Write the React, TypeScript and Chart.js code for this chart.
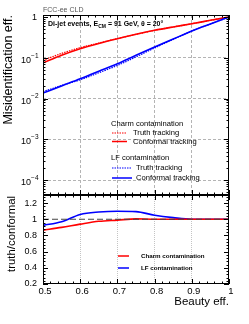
import React, { useEffect, useRef } from 'react';
import { Chart, registerables } from 'chart.js';
Chart.register(...registerables);

// ---------- data ----------
const beautyEff = [0.5, 0.55, 0.6, 0.65, 0.7, 0.75, 0.8, 0.85, 0.9, 0.95, 1.0];
const charmConformal = [0.075, 0.115, 0.166, 0.224, 0.293, 0.376, 0.471, 0.571, 0.684, 0.83, 1.0];
const charmTruth = [0.0866, 0.128, 0.177, 0.23, 0.296, 0.374, 0.471, 0.571, 0.684, 0.83, 1.0];
const lfConformal = [0.0136, 0.0204, 0.0305, 0.0468, 0.0713, 0.115, 0.183, 0.288, 0.453, 0.676, 1.0];
const lfTruth = [0.0147, 0.021, 0.0288, 0.0429, 0.0648, 0.105, 0.174, 0.282, 0.453, 0.676, 1.0];
const charmRatio = [0.866, 0.9, 0.94, 0.975, 0.99, 1.005, 1.0, 1.0, 1.0, 1.0, 1.0];
const lfRatio = [0.925, 0.97, 1.06, 1.09, 1.1, 1.095, 1.05, 1.02, 1.0, 1.0, 1.0];
const refLineX = [0.5, 1.0];
const refLineY = [1, 1];

const xTickValues = [0.5, 0.6, 0.7, 0.8, 0.9, 1.0];
const xTickLabels = ['0.5', '0.6', '0.7', '0.8', '0.9', '1'];
const logTickValues = [1, 1e-1, 1e-2, 1e-3, 1e-4];
const logTickBase = ['1', '10', '10', '10', '10'];
const logTickExp = ['', '\u22121', '\u22122', '\u22123', '\u22124'];
const ratioTickValues = [0.2, 0.4, 0.6, 0.8, 1.0, 1.2];
const ratioTickLabels = ['0.2', '0.4', '0.6', '0.8', '1', '1.2'];

const RED = '#ff0000';
const BLUE = '#0000ff';
const FONT = '"Liberation Sans", Arial, Helvetica, sans-serif';

const W = 249;
const H = 324;

function pts(xs: number[], ys: number[]) {
  return xs.map((x, i) => ({ x, y: ys[i] }));
}

function drawFrame(chart: any, xMinorStep: number, yMinors: number[], yMajors: number[]) {
  const ctx = chart.ctx;
  const a = chart.chartArea;
  const xs = chart.scales.x;
  const ys = chart.scales.y;
  ctx.save();
  ctx.strokeStyle = '#000';
  ctx.lineWidth = 1;
  ctx.strokeRect(a.left + 0.5, a.top + 0.5, a.right - a.left - 1, a.bottom - a.top - 1);
  ctx.beginPath();
  const n = Math.round((xs.max - xs.min) / xMinorStep);
  for (let k = 0; k <= n; k++) {
    const v = xs.min + k * xMinorStep;
    const major = k % 5 === 0;
    const len = major ? 5 : 2.5;
    const px = Math.round(xs.getPixelForValue(v)) + 0.5;
    ctx.moveTo(px, a.bottom);
    ctx.lineTo(px, a.bottom - len);
    ctx.moveTo(px, a.top);
    ctx.lineTo(px, a.top + len);
  }
  const drawY = (v: number, len: number) => {
    if (v < ys.min || v > ys.max) return;
    const py = Math.round(ys.getPixelForValue(v)) + 0.5;
    ctx.moveTo(a.left, py);
    ctx.lineTo(a.left + len, py);
    ctx.moveTo(a.right, py);
    ctx.lineTo(a.right - len, py);
  };
  yMinors.forEach((v) => drawY(v, 2.5));
  yMajors.forEach((v) => drawY(v, 5));
  ctx.stroke();
  ctx.restore();
}

function legendLine(ctx: any, x0: number, x1: number, y: number, color: string, dash: number[], width: number) {
  ctx.save();
  ctx.strokeStyle = color;
  ctx.lineWidth = width;
  ctx.setLineDash(dash);
  ctx.beginPath();
  ctx.moveTo(x0, y);
  ctx.lineTo(x1, y);
  ctx.stroke();
  ctx.restore();
}

function rotatedText(ctx: any, text: string, x: number, yEnd: number, font: string) {
  ctx.save();
  ctx.translate(x, yEnd);
  ctx.rotate(-Math.PI / 2);
  ctx.font = font;
  ctx.fillStyle = '#000';
  ctx.textAlign = 'right';
  ctx.textBaseline = 'middle';
  ctx.fillText(text, 0, 0);
  ctx.restore();
}

const topPlugin = {
  id: 'topDecor',
  afterDraw(chart: any) {
    const ctx = chart.ctx;
    const ys = chart.scales.y;
    const logMinors: number[] = [];
    for (let e = -5; e <= 0; e++) {
      for (let m = 2; m <= 9; m++) logMinors.push(m * Math.pow(10, e));
    }
    drawFrame(chart, 0.02, logMinors, logTickValues);

    ctx.save();
    ctx.fillStyle = '#000';
    // y tick labels with superscripts
    logTickValues.forEach((v, i) => {
      const y = ys.getPixelForValue(v);
      ctx.textBaseline = 'middle';
      ctx.textAlign = 'right';
      if (!logTickExp[i]) {
        ctx.font = `9px ${FONT}`;
        ctx.fillText(logTickBase[i], 37, y + 0.5);
      } else {
        ctx.font = `6.5px ${FONT}`;
        const w = ctx.measureText(logTickExp[i]).width;
        ctx.fillText(logTickExp[i], 38.5, y - 2);
        ctx.font = `9px ${FONT}`;
        ctx.fillText(logTickBase[i], 38.5 - w, y + 2.5);
      }
    });

    // header
    ctx.textAlign = 'left';
    ctx.textBaseline = 'alphabetic';
    ctx.fillStyle = '#555';
    ctx.font = `7px ${FONT}`;
    ctx.fillText('FCC-ee CLD', 43, 12);

    ctx.fillStyle = '#000';
    ctx.font = `bold 7px ${FONT}`;
    let x = 48;
    const base = 25.5;
    const p1 = 'Di-jet events, E';
    ctx.fillText(p1, x, base);
    x += ctx.measureText(p1).width;
    ctx.font = `bold 5px ${FONT}`;
    ctx.fillText('CM', x, base + 2);
    x += ctx.measureText('CM').width;
    ctx.font = `bold 7px ${FONT}`;
    ctx.fillText(' = 91 GeV, \u03b8 = 20\u00b0', x, base);

    // legend
    ctx.font = `7.6px ${FONT}`;
    ctx.textBaseline = 'middle';
    ctx.fillText('Charm contamination', 111, 124);
    legendLine(ctx, 112, 127, 133, RED, [1.5, 1], 1.2);
    ctx.fillText('Truth tracking', 133, 133);
    legendLine(ctx, 112, 127, 141.5, RED, [], 1.5);
    ctx.fillText('Conformal tracking', 133, 141.5);
    ctx.fillText('LF contamination', 111, 158);
    legendLine(ctx, 112, 131, 168, BLUE, [1.5, 1], 1.2);
    ctx.fillText('Truth tracking', 136, 168);
    legendLine(ctx, 112, 132, 178, BLUE, [], 1.5);
    ctx.fillText('Conformal tracking', 136, 178);
    ctx.restore();

    rotatedText(ctx, 'Misidentification eff.', 9, 15, `12.5px ${FONT}`);
  },
};

const bottomPlugin = {
  id: 'bottomDecor',
  afterDraw(chart: any) {
    const ctx = chart.ctx;
    const minors: number[] = [];
    for (let k = 0; k <= 30; k++) minors.push(0.2 + k * 0.04);
    drawFrame(chart, 0.02, minors, ratioTickValues);

    ctx.save();
    ctx.fillStyle = '#000';
    ctx.font = `bold 6.2px ${FONT}`;
    ctx.textAlign = 'left';
    ctx.textBaseline = 'middle';
    legendLine(ctx, 118, 129, 256, RED, [], 1.5);
    ctx.fillText('Charm contamination', 141, 256);
    legendLine(ctx, 118, 129, 268, BLUE, [], 1.5);
    ctx.fillText('LF contamination', 141, 268);

    ctx.font = `11.5px ${FONT}`;
    ctx.textAlign = 'right';
    ctx.textBaseline = 'alphabetic';
    ctx.fillText('Beauty eff.', 229, 305);
    ctx.restore();

    rotatedText(ctx, 'truth/conformal', 12, 196, `11.4px ${FONT}`);
  },
};

function gridColor(ctx: any, edges: number[], color: string) {
  const v = ctx.tick ? ctx.tick.value : null;
  if (v == null) return 'rgba(0,0,0,0)';
  if (edges.some((e) => Math.abs(e - v) < 1e-9)) return 'rgba(0,0,0,0)';
  return color;
}

export default function App() {
  const topRef = useRef<HTMLCanvasElement>(null);
  const botRef = useRef<HTMLCanvasElement>(null);

  useEffect(() => {
    const lineDs = (label: string, ys: number[], color: string, dash: number[], width: number) => ({
      label,
      data: pts(beautyEff, ys),
      borderColor: color,
      backgroundColor: color,
      borderWidth: width,
      borderDash: dash,
      pointRadius: 0,
      fill: false,
      cubicInterpolationMode: 'monotone' as const,
    });

    const top = new Chart(topRef.current as HTMLCanvasElement, {
      type: 'line',
      data: {
        datasets: [
          lineDs('LF conformal', lfConformal, BLUE, [], 1.6),
          lineDs('LF truth', lfTruth, BLUE, [1.5, 1], 1.2),
          lineDs('Charm conformal', charmConformal, RED, [], 1.6),
          lineDs('Charm truth', charmTruth, RED, [1.5, 1], 1.2),
        ],
      },
      options: {
        responsive: false,
        animation: false,
        events: [],
        devicePixelRatio: 1,
        layout: { padding: { left: 0, right: 20, top: 15, bottom: H - 195 } },
        plugins: { legend: { display: false }, tooltip: { enabled: false } },
        scales: {
          x: {
            type: 'linear',
            min: 0.5,
            max: 1,
            afterBuildTicks: (s: any) => {
              s.ticks = xTickValues.map((v) => ({ value: v }));
            },
            afterFit: (s: any) => {
              s.height = 0;
            },
            ticks: { display: false },
            grid: {
              drawTicks: false,
              lineWidth: 1,
              color: (c: any) => gridColor(c, [0.5, 1], '#b4b4b4'),
            },
            border: { display: false, dash: [3, 2] },
          },
          y: {
            type: 'logarithmic',
            min: 4.3e-5,
            max: 1.12,
            afterBuildTicks: (s: any) => {
              s.ticks = logTickValues.map((v) => ({ value: v }));
            },
            afterFit: (s: any) => {
              s.width = 43;
            },
            ticks: { display: false },
            grid: {
              drawTicks: false,
              lineWidth: 1,
              color: (c: any) => gridColor(c, [1], '#b4b4b4'),
            },
            border: { display: false, dash: [3, 2] },
          },
        },
      },
      plugins: [topPlugin],
    } as any);

    const bottom = new Chart(botRef.current as HTMLCanvasElement, {
      type: 'line',
      data: {
        datasets: [
          {
            label: 'ref',
            data: pts(refLineX, refLineY),
            borderColor: '#444',
            borderWidth: 1.2,
            borderDash: [6, 3],
            pointRadius: 0,
            fill: false,
          },
          lineDs('Charm contamination', charmRatio, RED, [], 1.6),
          lineDs('LF contamination', lfRatio, BLUE, [], 1.6),
        ],
      },
      options: {
        responsive: false,
        animation: false,
        events: [],
        devicePixelRatio: 1,
        layout: { padding: { left: 0, right: 20, top: 195, bottom: 10 } },
        plugins: { legend: { display: false }, tooltip: { enabled: false } },
        scales: {
          x: {
            type: 'linear',
            min: 0.5,
            max: 1,
            afterBuildTicks: (s: any) => {
              s.ticks = xTickValues.map((v) => ({ value: v }));
            },
            afterFit: (s: any) => {
              s.height = 30;
            },
            ticks: {
              display: true,
              autoSkip: false,
              maxRotation: 0,
              padding: 2,
              labelOffset: 2,
              color: '#000',
              font: { family: FONT, size: 9.5 },
              callback: (v: any) => {
                const i = xTickValues.findIndex((t) => Math.abs(t - Number(v)) < 1e-9);
                return i >= 0 ? xTickLabels[i] : '';
              },
            },
            grid: {
              drawTicks: false,
              lineWidth: 1,
              color: (c: any) => gridColor(c, [0.5, 1], '#c4c4c4'),
            },
            border: { display: false, dash: [1, 1] },
          },
          y: {
            type: 'linear',
            min: 0.2,
            max: 1.3,
            afterBuildTicks: (s: any) => {
              s.ticks = ratioTickValues.map((v) => ({ value: v }));
            },
            afterFit: (s: any) => {
              s.width = 43;
            },
            ticks: {
              display: true,
              padding: 6,
              color: '#000',
              font: { family: FONT, size: 9 },
              callback: (v: any) => {
                const i = ratioTickValues.findIndex((t) => Math.abs(t - Number(v)) < 1e-9);
                return i >= 0 ? ratioTickLabels[i] : '';
              },
            },
            grid: { display: false, drawTicks: false },
            border: { display: false },
          },
        },
      },
      plugins: [bottomPlugin],
    } as any);

    return () => {
      top.destroy();
      bottom.destroy();
    };
  }, []);

  const canvasStyle: React.CSSProperties = {
    position: 'absolute',
    left: 0,
    top: 0,
    width: W,
    height: H,
  };

  return (
    <div style={{ position: 'absolute', left: 0, top: 0, width: W, height: H, background: '#fff', overflow: 'hidden' }}>
      <canvas ref={topRef} width={W} height={H} style={canvasStyle} />
      <canvas ref={botRef} width={W} height={H} style={canvasStyle} />
    </div>
  );
}
